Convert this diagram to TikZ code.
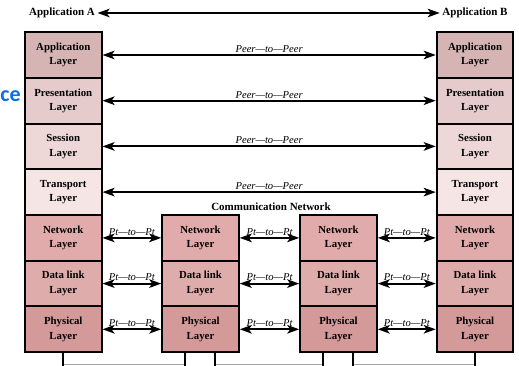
\documentclass[tikz,border=0pt]{standalone}
\usepackage{fontspec}
\setmainfont{Liberation Serif}
\newfontfamily\carlito{Carlito}
\usetikzlibrary{arrows.meta}

\definecolor{cApp}{RGB}{214,180,180}
\definecolor{cPres}{RGB}{229,203,203}
\definecolor{cSess}{RGB}{237,215,215}
\definecolor{cTrans}{RGB}{246,229,229}
\definecolor{cNet}{RGB}{225,171,171}
\definecolor{cLink}{RGB}{223,172,172}
\definecolor{cPhys}{RGB}{212,154,154}
\definecolor{slideblue}{RGB}{10,110,235}

\tikzset{
  layer/.style={draw=black, line width=2pt, minimum width=76.5pt,
    minimum height=45.7pt, inner sep=0pt, align=center,
    font=\fontsize{10.8}{14.5}\selectfont\bfseries},
  headlabel/.style={font=\fontsize{11}{13}\selectfont\bfseries, inner sep=2.5pt},
  link/.style={line width=2.1pt,
    {Stealth[length=12pt,width=8.5pt,inset=3pt]}-{Stealth[length=12pt,width=8.5pt,inset=3pt]}},
  linklabel/.style={font=\fontsize{10.6}{12}\selectfont\itshape, inner sep=1.5pt,
    midway, above},
  wire/.style={line width=1.8pt},
  ground/.style={line width=0.6pt, draw=black!35}
}

\begin{document}
\begin{tikzpicture}[x=1pt, y=-1pt]
\useasboundingbox (0,0) rectangle (519,366);

% slide title fragment at the left margin
\node[anchor=base west, inner sep=0pt, text=slideblue,
  font=\carlito\fontsize{22}{24}\selectfont\bfseries] (title) at (0.3,101.5) {ce};

% end-system stacks (seven layers each)
\foreach \s/\x in {L/63.25, R/475} {
  \node[layer, fill=cApp]   (\s1) at (\x, 55.0)  {Application\\Layer};
  \node[layer, fill=cPres]  (\s2) at (\x,100.7)  {Presentation\\Layer};
  \node[layer, fill=cSess]  (\s3) at (\x,146.4)  {Session\\Layer};
  \node[layer, fill=cTrans] (\s4) at (\x,192.1)  {Transport\\Layer};
  \node[layer, fill=cNet]   (\s5) at (\x,237.9)  {Network\\Layer};
  \node[layer, fill=cLink]  (\s6) at (\x,283.6)  {Data link\\Layer};
  \node[layer, fill=cPhys]  (\s7) at (\x,329.3)  {Physical\\Layer};
}

% intermediate nodes of the communication network (lower three layers)
\foreach \s/\x in {A/200.5, B/338.5} {
  \node[layer, fill=cNet]   (\s5) at (\x,237.9)  {Network\\Layer};
  \node[layer, fill=cLink]  (\s6) at (\x,283.6)  {Data link\\Layer};
  \node[layer, fill=cPhys]  (\s7) at (\x,329.3)  {Physical\\Layer};
}

\node[headlabel] (appA) at (62,13) {Application A};
\node[headlabel] (appB) at (475,13) {Application B};
\node[headlabel] (comm) at (271,207) {Communication Network};

% end-to-end and peer-to-peer relations
\draw[link] (appA.east) -- (appB.west);
\foreach \i in {1,...,4}
  \draw[link] (L\i.east) -- node[linklabel] {Peer---to---Peer} (R\i.west);

% point-to-point relations between neighbouring nodes
\foreach \i in {5,6,7} {
  \draw[link] (L\i.east) -- node[linklabel] {Pt---to---Pt} (A\i.west);
  \draw[link] (A\i.east) -- node[linklabel] {Pt---to---Pt} (B\i.west);
  \draw[link] (B\i.east) -- node[linklabel] {Pt---to---Pt} (R\i.west);
}

% physical media below the stacks
\coordinate (gL)  at (63,364.5);
\coordinate (gA1) at (185,364.5);
\coordinate (gA2) at (215,364.5);
\coordinate (gB1) at (323,364.5);
\coordinate (gB2) at (353,364.5);
\coordinate (gR)  at (475,364.5);
\draw[ground] (gL) -- (gA1) (gA2) -- (gB1) (gB2) -- (gR);
\draw[wire] (L7.south -| gL) -- (63,366);
\draw[wire] (A7.south -| gA1) -- (185,366);
\draw[wire] (A7.south -| gA2) -- (215,366);
\draw[wire] (B7.south -| gB1) -- (323,366);
\draw[wire] (B7.south -| gB2) -- (353,366);
\draw[wire] (R7.south -| gR) -- (475,366);
\end{tikzpicture}
\end{document}
